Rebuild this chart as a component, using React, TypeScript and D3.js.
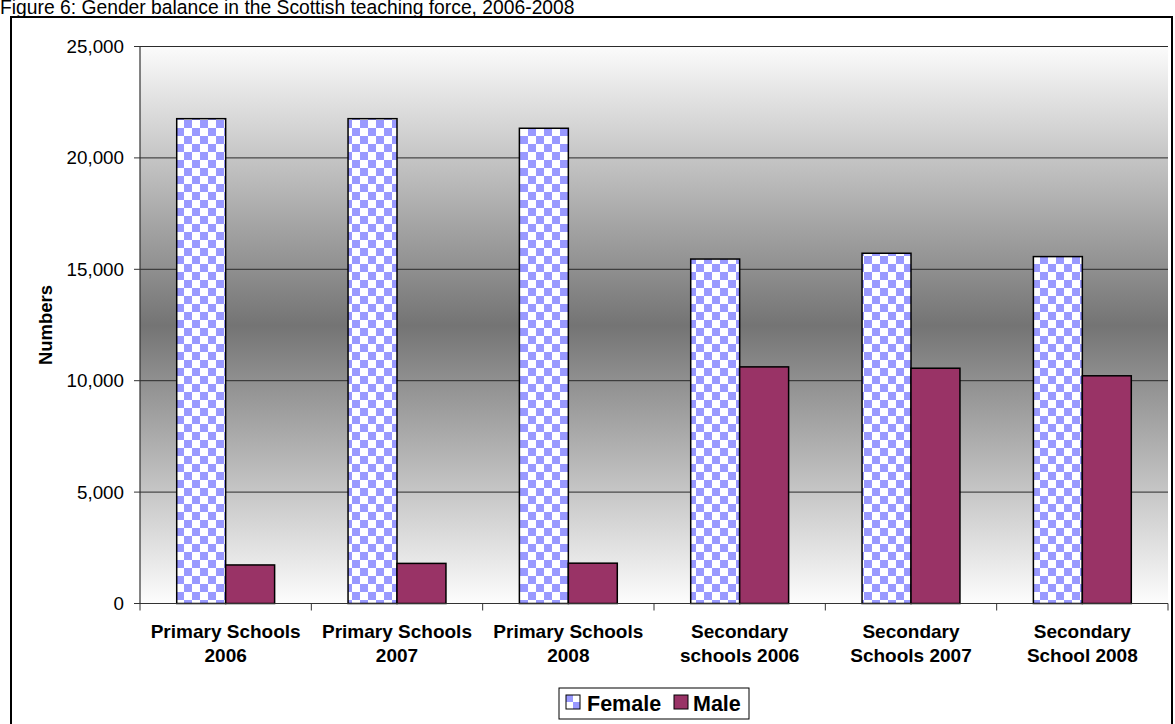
import React from "react";
import * as d3 from "d3";

const categories: string[][] = [
  ["Primary Schools", "2006"],
  ["Primary Schools", "2007"],
  ["Primary Schools", "2008"],
  ["Secondary", "schools 2006"],
  ["Secondary", "Schools 2007"],
  ["Secondary", "School 2008"],
];
const femaleValues = [21760, 21760, 21330, 15460, 15720, 15570];
const maleValues = [1730, 1800, 1810, 10620, 10560, 10220];
const yTicks = [0, 5000, 10000, 15000, 20000, 25000];
const seriesNames = ["Female", "Male"];

const W = 1175;
const H = 724;
const plot = { left: 140, right: 1168, top: 46.5, bottom: 603.5 };
const FONT = "'Liberation Sans', Arial, sans-serif";
const MALE = "#993366";
const FEMALE_SQ = "#9999FF";

export default function App() {
  const x = d3
    .scaleBand<number>()
    .domain(d3.range(categories.length))
    .range([plot.left, plot.right]);
  const y = d3.scaleLinear().domain([0, 25000]).range([plot.bottom, plot.top]);
  const barW = x.bandwidth() / 3.5;
  const fmt = d3.format(",");

  return (
    <svg
      width={W}
      height={H}
      style={{ position: "absolute", left: 0, top: 0, display: "block" }}
      fontFamily={FONT}
    >
      <defs>
        <linearGradient id="bg" x1="0" y1="0" x2="0" y2="1">
          <stop offset="0" stopColor="#fbfbfb" />
          <stop offset="0.5" stopColor="#747474" />
          <stop offset="1" stopColor="#fdfdfd" />
        </linearGradient>
        <pattern id="checker" width="16" height="16" patternUnits="userSpaceOnUse">
          <rect width="16" height="16" fill="#ffffff" />
          <rect x="0" y="0" width="8" height="8" fill={FEMALE_SQ} />
          <rect x="8" y="8" width="8" height="8" fill={FEMALE_SQ} />
        </pattern>
        <pattern id="checkerSmall" width="14" height="14" patternUnits="userSpaceOnUse" x="566" y="695">
          <rect width="14" height="14" fill="#ffffff" />
          <rect x="0" y="0" width="7" height="7" fill={FEMALE_SQ} />
          <rect x="7" y="7" width="7" height="7" fill={FEMALE_SQ} />
        </pattern>
      </defs>
      <rect width={W} height={H} fill="#ffffff" />

      {/* title */}
      <text x={0} y={13.5} fontSize={19.3} fill="#000">
        Figure 6:  Gender balance in the Scottish teaching force, 2006-2008
      </text>

      {/* chart frame */}
      <rect x={11} y={17} width={1161} height={730} fill="none" stroke="#000" strokeWidth={2} />

      {/* plot background */}
      <rect
        x={plot.left}
        y={plot.top}
        width={plot.right - plot.left}
        height={plot.bottom - plot.top}
        fill="url(#bg)"
      />

      {/* gridlines and y ticks */}
      {yTicks.map((t) => (
        <g key={t}>
          {t > 0 && (
            <line x1={plot.left} x2={plot.right} y1={y(t)} y2={y(t)} stroke="#2a2a2a" strokeWidth={1} />
          )}
          <line x1={plot.left - 6} x2={plot.left} y1={y(t)} y2={y(t)} stroke="#333" strokeWidth={1} />
          <text x={124} y={y(t) + 6.5} fontSize={18.8} textAnchor="end" fill="#000">
            {fmt(t)}
          </text>
        </g>
      ))}

      {/* bars */}
      {categories.map((_, i) => {
        const c = (x(i) as number) + x.bandwidth() / 2;
        return (
          <g key={i}>
            <rect
              x={c - barW}
              y={y(femaleValues[i])}
              width={barW}
              height={plot.bottom - y(femaleValues[i])}
              fill="url(#checker)"
              stroke="#000"
              strokeWidth={1.5}
            />
            <rect
              x={c}
              y={y(maleValues[i])}
              width={barW}
              height={plot.bottom - y(maleValues[i])}
              fill={MALE}
              stroke="#000"
              strokeWidth={1.5}
            />
          </g>
        );
      })}

      {/* axes */}
      <line x1={plot.left} x2={plot.left} y1={plot.top} y2={plot.bottom} stroke="#333" strokeWidth={1.2} />
      <line x1={plot.left} x2={plot.right} y1={plot.bottom} y2={plot.bottom} stroke="#333" strokeWidth={1.2} />
      {d3.range(categories.length + 1).map((i) => {
        const xx = plot.left + i * x.step();
        return <line key={i} x1={xx} x2={xx} y1={plot.bottom} y2={plot.bottom + 7} stroke="#333" strokeWidth={1} />;
      })}

      {/* category labels */}
      {categories.map((lines, i) => {
        const c = (x(i) as number) + x.bandwidth() / 2;
        return (
          <text key={i} x={c} textAnchor="middle" fontSize={19} fontWeight="bold" fill="#000">
            {lines.map((l, j) => (
              <tspan key={j} x={c} y={638 + j * 24}>
                {l}
              </tspan>
            ))}
          </text>
        );
      })}

      {/* y axis title */}
      <text
        transform={`translate(52,${(plot.top + plot.bottom) / 2}) rotate(-90)`}
        textAnchor="middle"
        fontSize={18.5}
        fontWeight="bold"
        fill="#000"
      >
        Numbers
      </text>

      {/* legend */}
      <rect x={559} y={688} width={190} height={31} fill="#ffffff" stroke="#000" strokeWidth={1} />
      <rect x={566} y={695} width={14} height={14} fill="url(#checkerSmall)" stroke="#000" strokeWidth={1} />
      <text x={587} y={711} fontSize={21.5} fontWeight="bold" fill="#000">
        {seriesNames[0]}
      </text>
      <rect x={674} y={695} width={14} height={14} fill={MALE} stroke="#000" strokeWidth={1} />
      <text x={693} y={711} fontSize={21.5} fontWeight="bold" fill="#000">
        {seriesNames[1]}
      </text>
    </svg>
  );
}
